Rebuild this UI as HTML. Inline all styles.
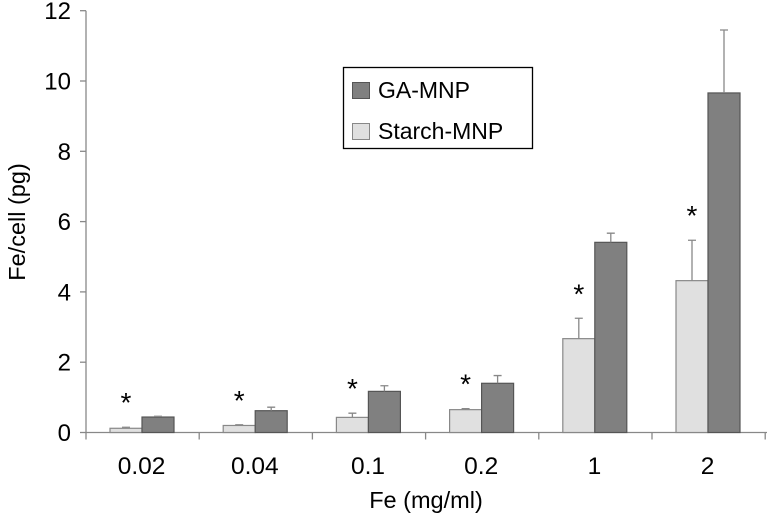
<!DOCTYPE html>
<html><head><meta charset="utf-8"><style>
body{margin:0;background:#fff;width:767px;height:517px;overflow:hidden}
svg{display:block;font-family:"Liberation Sans",Arial,sans-serif}
</style></head><body>
<svg id="chart" width="767" height="517">
<g id="axes"></g><g id="bars"></g>
<g>
<rect x="343.5" y="67.5" width="189" height="81" fill="#fff" stroke="#000" stroke-width="1.3"/>
<rect x="352.5" y="82.5" width="17" height="16" fill="#808080" stroke="#555"/>
<text x="378" y="98" font-size="23">GA-MNP</text>
<rect x="352.5" y="123.5" width="17" height="16" fill="#e0e0e0" stroke="#888"/>
<text x="378" y="139" font-size="23">Starch-MNP</text>
</g>
<text x="426" y="508" font-size="23.5" text-anchor="middle">Fe (mg/ml)</text>
<text transform="translate(25,222) rotate(-90)" font-size="23.5" text-anchor="middle">Fe/cell (pg)</text>
</svg>
<script>
const categories=["0.02","0.04","0.1","0.2","1","2"];
const starch=[0.12,0.2,0.43,0.65,2.67,4.32];
const starchErr=[0.03,0.02,0.12,0.03,0.58,1.15];
const ga=[0.44,0.62,1.17,1.4,5.41,9.66];
const gaErr=[0.02,0.1,0.16,0.22,0.26,1.79];
const yTicks=[0,2,4,6,8,10,12];
const NS="http://www.w3.org/2000/svg";
const x0=86,cw=113.2,y0=432.5,k=35.15;
const ys=v=>y0-v*k;
const xs=i=>x0+i*cw;
function mk(t,a,p){const e=document.createElementNS(NS,t);for(const n in a)e.setAttribute(n,a[n]);p.appendChild(e);return e;}
const ax=document.getElementById('axes'),bg=document.getElementById('bars');
let l=mk('line',{x1:x0,y1:ys(12),x2:x0,y2:y0,stroke:'#888','stroke-width':1.3},ax);


l=mk('line',{x1:x0,y1:y0,x2:767,y2:y0,stroke:'#888','stroke-width':1.3},ax);


yTicks.forEach(v=>{
 const t=mk('line',{x1:x0-6,x2:x0,y1:ys(v),y2:ys(v),stroke:'#888','stroke-width':1.3},ax);
 
 
 const tx=mk('text',{x:x0-15,y:ys(v)+8.5,'font-size':24,'text-anchor':'end'},ax);tx.textContent=v;
 
 
});
for(let i=0;i<=categories.length;i++){
 const t=mk('line',{x1:xs(i),x2:xs(i),y1:y0,y2:y0+7,stroke:'#888','stroke-width':1.3},ax);
 
 
}
categories.forEach((c,i)=>{
 const tx=mk('text',{x:xs(i)+cw/2-1,y:474,'font-size':24.5,'text-anchor':'middle'},ax);tx.textContent=c;
 
 
 const bx=xs(i)+24,bw=32;
 [[starch,starchErr,'#e0e0e0','#888',bx,'starch'],[ga,gaErr,'#808080','#555',bx+bw,'ga']].forEach(([vals,errs,f,s,x,nm])=>{
  const r=mk('rect',{x:x,y:ys(vals[i]),width:bw,height:y0-ys(vals[i]),fill:f,stroke:s,'stroke-width':1.2},bg);
  
  
  const cx=x+bw/2,et=ys(vals[i]+errs[i]);
  const e=mk('path',{d:`M${cx},${ys(vals[i])}V${et}M${cx-4},${et}H${cx+4}`,stroke:'#888','stroke-width':1.3,fill:'none'},bg);
  
  
 });
 const st=mk('text',{x:bx+16,y:ys(starch[i]+starchErr[i])-15,'font-size':28,'text-anchor':'middle'},bg);st.textContent='*';
 
 
});
</script>
</body></html>
